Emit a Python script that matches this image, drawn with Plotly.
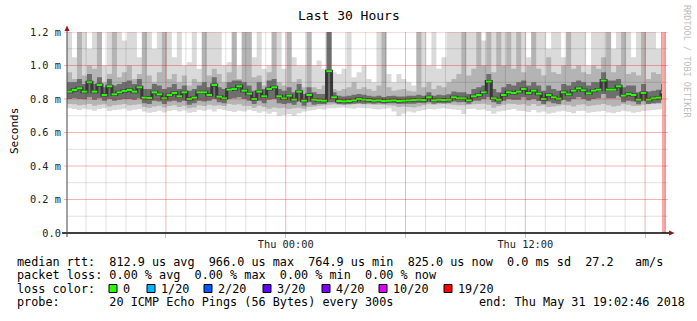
import plotly.graph_objects as go
import pandas as pd

# ---------------- data ----------------
start = "2018-05-30 13:02:46"
end = "2018-05-31 19:02:46"
interval_minutes = 15

# median RTT per interval (microseconds)
median_us = [844, 854, 864, 844, 900, 844, 884, 824, 876, 828, 840, 848, 854, 844, 870, 808, 806, 840, 828, 804,
             824, 836, 816, 840, 800, 808, 840, 840, 824, 884,
             814, 804, 856, 860, 876, 850, 832, 800, 844, 816, 860, 870, 816, 804, 820, 796, 844, 790, 824, 796,
             792, 790, 966, 810, 788, 786, 788, 792, 800, 796,
             794, 790, 792, 788, 790, 792, 788, 790, 792, 794, 796, 794, 810, 792, 796, 794, 796, 810, 804, 804,
             792, 816, 824, 840, 904, 804, 796, 824, 840, 836,
             844, 860, 836, 850, 832, 800, 824, 810, 802, 840, 828, 850, 864, 852, 834, 850, 856, 910, 856, 856,
             876, 820, 830, 824, 796, 836, 796, 804, 808, 840]

ping_min_us = [745, 740, 735, 742, 738, 730, 740, 745, 728, 735, 738, 742, 730, 736, 740, 725, 718, 722, 730, 720,
               728, 735, 725, 732, 718, 722, 735, 730, 738, 726,
               740, 735, 728, 722, 730, 725, 735, 728, 718, 725, 712, 722, 700, 705, 710, 700, 715, 725, 730, 735,
               740, 738, 745, 745, 748, 750, 745, 742, 748, 745,
               745, 740, 738, 742, 745, 725, 700, 712, 725, 720, 728, 735, 740, 738, 742, 745, 740, 738, 735, 710,
               740, 742, 735, 738, 728, 712, 725, 730, 735, 740,
               730, 728, 722, 735, 720, 725, 712, 718, 725, 730, 722, 715, 728, 730, 718, 722, 725, 728, 720, 715,
               722, 730, 725, 718, 722, 728, 732, 735, 738, 740]

ping_max_us = [1250, 1050, 1250, 1250, 1100, 1250, 1250, 1000, 1250, 1250, 1250, 1150, 1250, 1250, 1050, 1250, 1250, 1100, 1250, 1250,
               1250, 1050, 1250, 1000, 1020, 1250, 980, 1250, 1250, 1250,
               1250, 1000, 1020, 1250, 1000, 1250, 1250, 1050, 1250, 980, 1000, 1250, 1250, 980, 1250, 1050, 1000, 1000, 1250, 1000,
               1030, 980, 1250, 960, 950, 980, 1250, 930, 960, 1000,
               920, 900, 1250, 1250, 950, 900, 950, 920, 900, 880, 1250, 1250, 1000, 1250, 980, 1050, 1250, 1250, 1250, 1250,
               1250, 1250, 1250, 1150, 1250, 1250, 1250, 1250, 1250, 1250,
               1250, 1250, 1050, 1250, 1250, 1250, 1100, 1250, 1250, 1050, 1250, 1250, 1250, 1250, 1000, 1250, 1250, 1250, 1250, 1100,
               1250, 1250, 1250, 1050, 1250, 1250, 1250, 1250, 1100, 1250]

p10_us = [770, 768, 762, 765, 770, 760, 765, 768, 755, 762, 765, 770, 762, 765, 768, 752, 748, 755, 760, 750,
          758, 762, 752, 760, 745, 750, 762, 758, 765, 760,
          762, 758, 770, 765, 768, 760, 758, 748, 760, 752, 742, 750, 745, 748, 740, 745, 748, 742, 752, 755,
          760, 762, 765, 768, 765, 764, 766, 768, 770, 768,
          768, 765, 766, 765, 762, 760, 752, 755, 752, 750, 755, 762, 768, 766, 768, 770, 768, 765, 762, 762,
          765, 768, 770, 772, 765, 748, 758, 765, 772, 770,
          765, 768, 760, 770, 758, 762, 752, 755, 760, 765, 762, 755, 765, 768, 758, 762, 765, 770, 762, 755,
          760, 768, 765, 758, 760, 766, 768, 770, 772, 775]

p90_us = [960, 920, 1200, 940, 1000, 980, 1200, 900, 950, 1200, 930, 960, 1000, 920, 950, 1200, 940, 900, 960, 1200,
          920, 950, 900, 940, 880, 920, 900, 1200, 940, 980,
          950, 900, 960, 1200, 920, 1200, 1200, 930, 940, 880, 960, 1200, 900, 880, 1200, 900, 920, 870, 1200, 870,
          860, 880, 1250, 860, 850, 860, 870, 900, 860, 870,
          860, 850, 880, 1200, 870, 850, 855, 860, 850, 845, 1200, 870, 900, 860, 880, 870, 900, 920, 950, 1200,
          940, 980, 1200, 1000, 1200, 960, 1200, 1000, 1200, 980,
          1200, 960, 1000, 1200, 980, 940, 1050, 960, 950, 1000, 1200, 980, 1000, 960, 950, 1000, 980, 1050, 1200, 960,
          1000, 1200, 950, 960, 940, 1200, 920, 960, 950, 1200]

p25_us = [800, 805, 800, 798, 810, 795, 805, 790, 800, 790, 795, 800, 800, 795, 805, 775, 770, 790, 785, 770,
          785, 790, 780, 790, 765, 775, 790, 785, 790, 800,
          780, 775, 800, 805, 810, 800, 790, 770, 790, 775, 795, 800, 775, 770, 775, 765, 785, 760, 780, 765,
          770, 770, 780, 780, 770, 768, 770, 772, 775, 772,
          775, 772, 774, 772, 774, 774, 770, 772, 772, 772, 776, 774, 780, 772, 776, 774, 776, 785, 780, 782,
          772, 790, 790, 800, 810, 780, 770, 790, 800, 795,
          795, 810, 792, 800, 788, 770, 785, 775, 770, 795, 785, 800, 810, 800, 790, 800, 805, 830, 805, 805,
          820, 780, 790, 785, 768, 790, 770, 775, 778, 795]

p75_us = [900, 900, 920, 890, 950, 890, 930, 870, 920, 880, 890, 900, 910, 890, 920, 860, 860, 890, 880, 860,
          870, 890, 860, 880, 850, 860, 880, 900, 870, 930,
          870, 860, 900, 910, 910, 900, 880, 850, 900, 860, 910, 920, 860, 850, 870, 840, 890, 830, 870, 840,
          830, 830, 1200, 840, 820, 815, 820, 825, 830, 825,
          820, 815, 820, 812, 818, 820, 815, 815, 820, 820, 825, 820, 840, 820, 825, 822, 828, 845, 840, 840,
          830, 860, 870, 880, 950, 860, 840, 870, 890, 880,
          900, 910, 880, 900, 880, 850, 880, 860, 850, 890, 880, 900, 910, 900, 880, 900, 900, 960, 910, 910,
          920, 870, 880, 880, 840, 890, 845, 850, 855, 890]

unknown_from = "2018-05-31 18:50:46"

y_tick_vals = [0.0, 0.2, 0.4, 0.6, 0.8, 1.0, 1.2]
y_tick_text = ["0.0", "0.2 m", "0.4 m", "0.6 m", "0.8 m", "1.0 m", "1.2 m"]
x_tick_times = ["2018-05-30 18:00", "2018-05-31 00:00", "2018-05-31 06:00", "2018-05-31 12:00", "2018-05-31 18:00"]
x_tick_text = ["", "Thu 00:00", "", "Thu 12:00", ""]

title_text = "Last 30 Hours"
y_title = "Seconds"
credit_text = "RRDTOOL / TOBI OETIKER"
stats_line = "median rtt:  812.9 us avg  966.0 us max  764.9 us min  825.0 us now  0.0 ms sd  27.2   am/s"
loss_line = "packet loss: 0.00 % avg  0.00 % max  0.00 % min  0.00 % now"
loss_title = "loss color:"
loss_labels = ["0", "1/20", "2/20", "3/20", "4/20", "10/20", "19/20"]
loss_colors = ["#26ff00", "#00b8ff", "#0059ff", "#5e00ff", "#7e00ff", "#dd00ff", "#ff0000"]
probe_line = "probe:       20 ICMP Echo Pings (56 Bytes) every 300s"
end_text = "end: Thu May 31 19:02:46 2018"

# ---------------- layout helpers ----------------
W, H = 697, 321
L, R, T, B = 67, 666, 32, 233
MONO = "DejaVu Sans Mono"
MAJOR = "rgba(235,0,0,0.30)"
MINOR = "rgba(0,0,0,0.12)"


def px(x):
    return x / W


def py(y):
    return 1 - y / H


def nb(s):
    return s.replace(" ", "\u00a0")


t_edges = list(pd.date_range(start, periods=len(median_us), freq=f"{interval_minutes}min")) + [pd.Timestamp(end)]
t_centers = [t + pd.Timedelta(minutes=interval_minutes / 2) for t in t_edges[:-1]]


def steps(vals_us):
    v = [x / 1000 for x in vals_us]
    return v + [v[-1]]


fig = go.Figure()


def band(lo, hi, color):
    fig.add_trace(go.Scatter(x=t_edges, y=steps(lo), mode="lines",
                             line=dict(width=0, shape="hv"), hoverinfo="skip"))
    fig.add_trace(go.Scatter(x=t_edges, y=steps(hi), mode="lines",
                             line=dict(width=0, shape="hv"), fill="tonexty",
                             fillcolor=color, hoverinfo="skip"))


band(ping_min_us, ping_max_us, "#dadada")
band(p10_us, p90_us, "#b4b4b4")
band(p25_us, p75_us, "#6e6e6e")

# dark core around the median
fig.add_trace(go.Scatter(x=t_edges, y=steps(median_us), mode="lines",
                         line=dict(width=3, shape="hv", color="#383838"), hoverinfo="skip"))
# median markers (colored by loss = 0)
fig.add_trace(go.Scatter(x=t_centers, y=[v / 1000 for v in median_us], mode="markers",
                         marker=dict(symbol="line-ew", size=4, line=dict(width=2, color=loss_colors[0])),
                         hoverinfo="skip"))

# unknown-data zone at the end (drawn last, full height of the axis)
uf = pd.Timestamp(unknown_from)
ue = pd.Timestamp(end)
fig.add_trace(go.Scatter(x=[uf, ue], y=[y_tick_vals[-1], y_tick_vals[-1]], mode="none",
                         fill="tozeroy", fillcolor="#ffa8a8", hoverinfo="skip"))

shapes = []
# vertical grid
for t in pd.date_range("2018-05-30 14:00", "2018-05-31 19:00", freq="1h"):
    major = t.hour % 6 == 0
    shapes.append(dict(type="line", xref="x", yref="paper", x0=t, x1=t, y0=py(B), y1=py(T),
                       line=dict(color=MAJOR if major else MINOR, width=1), layer="above"))
# horizontal grid
for k in range(1, 13):
    v = k / 10
    major = k % 2 == 0
    shapes.append(dict(type="line", xref="paper", yref="y", x0=px(L - (3 if major else 0)), x1=px(R + 2), y0=v, y1=v,
                       line=dict(color=MAJOR if major else MINOR, width=1), layer="above"))
# axes
shapes.append(dict(type="line", xref="paper", yref="paper", x0=px(62), x1=px(670), y0=py(B), y1=py(B),
                   line=dict(color="black", width=1.5), layer="above"))
shapes.append(dict(type="line", xref="paper", yref="paper", x0=px(L), x1=px(L), y0=py(B + 4), y1=py(29),
                   line=dict(color="#444444", width=1), layer="above"))
# arrows
shapes.append(dict(type="path", xref="paper", yref="paper",
                   path=f"M {px(64.5)},{py(31)} L {px(69.5)},{py(31)} L {px(67)},{py(25.5)} Z",
                   fillcolor="#a01010", line=dict(width=0), layer="above"))
shapes.append(dict(type="path", xref="paper", yref="paper",
                   path=f"M {px(669)},{py(230.5)} L {px(669)},{py(235.5)} L {px(674.5)},{py(233)} Z",
                   fillcolor="#a01010", line=dict(width=0), layer="above"))

annotations = []


def text(s, x, y, size=11.8, color="black", xanchor="left", angle=0, yanchor="middle"):
    annotations.append(dict(text=nb(s), x=px(x), y=py(y), xref="paper", yref="paper",
                            xanchor=xanchor, yanchor=yanchor, showarrow=False, textangle=angle,
                            borderpad=0, font=dict(family=MONO, size=size, color=color)))


text(title_text, 348.5, 15.5, size=13, xanchor="center")
text(y_title, 15, 131, size=11, xanchor="center", angle=-90)
text(credit_text, 687, 61, size=8.5, color="#bdbdbd", xanchor="center", angle=90)
text(stats_line, 16, 261.5)
text(loss_line, 16, 275)
text(loss_title, 16, 288.5)
square_left = [109, 147, 204, 263, 322, 379, 444]
for lab, col, sx in zip(loss_labels, loss_colors, square_left):
    shapes.append(dict(type="rect", xref="paper", yref="paper", x0=px(sx), x1=px(sx + 8),
                       y0=py(292.5), y1=py(284.5), fillcolor=col, line=dict(color="black", width=1)))
    text(lab, sx + 13, 288.5)
text(probe_line, 16, 302)
text(end_text, 478, 302)

fig.update_layout(
    template="none",
    width=W, height=H, margin=dict(l=0, r=0, t=0, b=0, pad=0, autoexpand=False),
    paper_bgcolor="white", plot_bgcolor="white", showlegend=False,
    shapes=shapes, annotations=annotations,
    xaxis=dict(domain=[px(L), px(R)], range=[pd.Timestamp(start), pd.Timestamp(end)], type="date",
               automargin=False, showgrid=False, zeroline=False, showline=False,
               tickmode="array", tickvals=x_tick_times, ticktext=x_tick_text,
               ticks="outside", ticklen=4, tickcolor=MAJOR, tickwidth=1, ticklabelstandoff=-2,
               tickfont=dict(family=MONO, size=10.3, color="#222222")),
    yaxis=dict(domain=[py(B), py(T)], range=[0, 1.2],
               automargin=False, showgrid=False, zeroline=False, showline=False,
               tickmode="array", tickvals=y_tick_vals, ticktext=y_tick_text,
               ticks="outside", ticklen=3, tickcolor="rgba(0,0,0,0)",
               tickfont=dict(family=MONO, size=10.3, color="#222222")),
)

fig.write_html("out.html")
